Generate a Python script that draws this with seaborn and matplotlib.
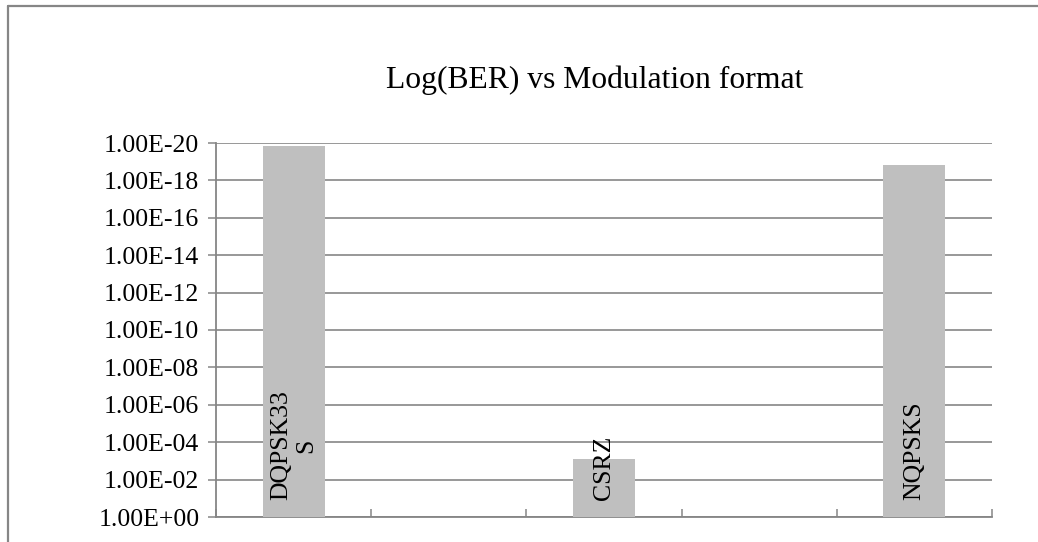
import numpy as np
import pandas as pd
import matplotlib
matplotlib.use("Agg")
import matplotlib.pyplot as plt
import seaborn as sns
from matplotlib.lines import Line2D

# data (BER, drawn on a reversed log axis)
formats = ["DQPSK33S", "CSRZ", "NQPSKS"]
labels = ["DQPSK33\nS", "CSRZ", "NQPSKS"]
ber = [1.4e-20, 8.0e-4, 1.5e-19]
order = ["DQPSK33S", " ", "CSRZ", "  ", "NQPSKS"]
ytick_exps = [0, 2, 4, 6, 8, 10, 12, 14, 16, 18, 20]

sns.set_style("white")
plt.rcParams['font.family'] = ['Liberation Serif', 'DejaVu Serif']
plt.rcParams['text.color'] = 'black'

df = pd.DataFrame({"Format": formats, "BER": ber})
df["depth"] = -np.log10(df["BER"])

fig = plt.figure(figsize=(10.38, 5.42), dpi=100)
ax = fig.add_axes([216/1038, 1-517/542, (992-216)/1038, (517-143)/542])

grid_col = "#868686"
sns.barplot(data=df, x="Format", y="depth", order=order, color="#BFBFBF",
            saturation=1, width=0.4, edgecolor="none", ax=ax, zorder=3)

ax.set_ylim(0, 20)
ax.set_xlim(-0.5, 4.5)
ax.set_yticks(ytick_exps)
ax.set_yticklabels(["1.00E+00" if e == 0 else f"1.00E-{e:02d}" for e in ytick_exps],
                   fontsize=18.5)
ax.yaxis.grid(True, color=grid_col, linewidth=1.2, zorder=0)
ax.set_axisbelow(True)
ax.tick_params(axis="y", direction="out", length=5.5, width=1.1, color=grid_col, pad=6.5,
               left=True, labelcolor="black")
ax.set_xticks(np.arange(-0.5, 5, 1))
ax.set_xticklabels([])
ax.tick_params(axis="x", direction="in", length=6, width=1.1, color=grid_col, bottom=True)
ax.set_xlabel("")
ax.set_ylabel("")
for s in ["top", "right"]:
    ax.spines[s].set_visible(False)
for s in ["left", "bottom"]:
    ax.spines[s].set_color(grid_col)
    ax.spines[s].set_linewidth(1.3)

# labels inside the bars, near their base
for f, lab in zip(formats, labels):
    ax.annotate(lab, xy=(order.index(f), 0), xytext=(0, 12), textcoords="offset points",
                rotation=90, ha="center", va="bottom", multialignment="center",
                fontsize=18.5, color="black", zorder=4)

fig.text(594.5/1038, 1-88/542, "Log(BER) vs Modulation format", fontsize=22.8,
         ha="center", va="baseline", color="black")

# outer chart frame (only top and left visible in the crop)
fig.add_artist(Line2D([8/1038, 1], [1-6/542, 1-6/542], transform=fig.transFigure,
                      color=grid_col, linewidth=1.6))
fig.add_artist(Line2D([8/1038, 8/1038], [0, 1-6/542], transform=fig.transFigure,
                      color=grid_col, linewidth=1.6))

fig.savefig("out.png", dpi=100)
